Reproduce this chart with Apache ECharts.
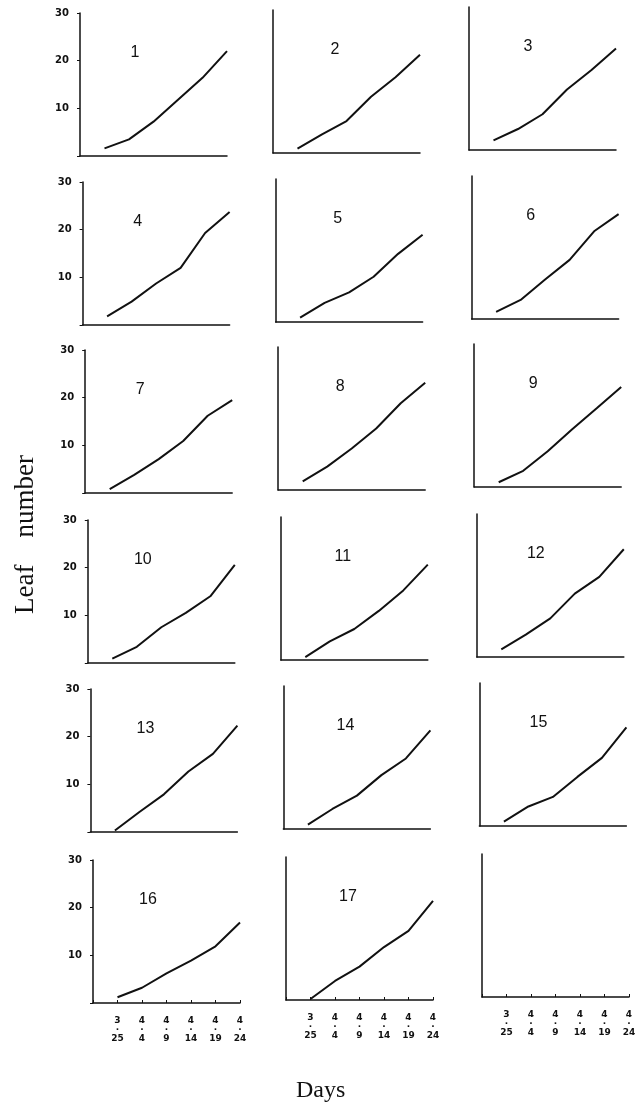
<!DOCTYPE html>
<html>
<head>
<meta charset="utf-8">
<script src="https://cdn.jsdelivr.net/npm/echarts@6/dist/echarts.min.js"></script>
<style>
html, body { margin: 0; padding: 0; background: #fff; }
#chart { width: 644px; height: 1109px; }
</style>
</head>
<body>
<div id="chart"></div>
<script>
// sampling dates, month over day
var months = ['3', '4', '4', '4', '4', '4'];
var days = ['25', '4', '9', '14', '19', '24'];
var dayIndex = [1, 2, 3, 4, 5, 6];
var yTicks = [0, 10, 20, 30];

// leaf number per plant
var leaf01 = [1.6, 3.5, 7.2, 11.8, 16.4, 22.0];
var leaf02 = [0.9, 3.9, 6.7, 11.8, 15.9, 20.6];
var leaf03 = [2.0, 4.4, 7.5, 12.7, 16.8, 21.3];
var leaf04 = [1.8, 4.9, 8.7, 12.0, 19.3, 23.7];
var leaf05 = [0.9, 4.0, 6.2, 9.5, 14.3, 18.3];
var leaf06 = [1.5, 4.0, 8.3, 12.4, 18.4, 22.0];
var leaf07 = [0.8, 3.8, 7.1, 10.9, 16.2, 19.5];
var leaf08 = [1.8, 4.9, 8.7, 12.9, 18.2, 22.5];
var leaf09 = [1.0, 3.4, 7.5, 12.1, 16.5, 21.0];
var leaf10 = [0.9, 3.4, 7.5, 10.5, 14.0, 20.6];
var leaf11 = [0.6, 3.9, 6.5, 10.3, 14.6, 20.0];
var leaf12 = [1.6, 4.7, 8.1, 13.3, 16.8, 22.6];
var leaf13 = [0.3, 4.2, 7.9, 12.7, 16.4, 22.3];
var leaf14 = [0.9, 4.2, 7.0, 11.3, 14.8, 20.7];
var leaf15 = [0.9, 4.1, 6.1, 10.3, 14.3, 20.7];
var leaf16 = [1.2, 3.2, 6.2, 8.9, 11.9, 16.9];
var leaf17 = [0.2, 4.0, 7.0, 11.1, 14.5, 20.8];

var plants = ['1', '2', '3', '4', '5', '6', '7', '8', '9', '10', '11', '12', '13', '14', '15', '16', '17'];
var leaves = [leaf01, leaf02, leaf03, leaf04, leaf05, leaf06, leaf07, leaf08, leaf09,
              leaf10, leaf11, leaf12, leaf13, leaf14, leaf15, leaf16, leaf17];

var o = {};

(function main() {
    o.chart = echarts.init(document.getElementById('chart'), null, { renderer: 'canvas' });
    o.chart.setOption(buildOption(), true);
})();

function buildOption()
{
    var colLeft = [80, 273, 469];
    var rowBottom = [156, 325, 493, 663, 832, 1003];
    var labelDx = [55, 62, 59];
    var labelDy = 40;
    var panelW = 147, panelH = 143;
    var ink = '#111';

    var grids = [], xAxes = [], yAxes = [], series = [], graphics = [];

    for (var i = 0; i < 18; i++) {
        var r = Math.floor(i / 3), c = i % 3;
        var left = colLeft[c] + r * 2.6;
        var bottom = rowBottom[r] - c * 3;
        var top = bottom - panelH;

        grids.push({ left: left, top: top, width: panelW, height: panelH });

        xAxes.push({
            gridIndex: i, type: 'value', min: 0, max: 6, interval: 1,
            axisLine: { lineStyle: { color: ink, width: 1.5 } },
            axisTick: { show: r === 5, inside: true, length: 3, lineStyle: { color: ink } },
            splitLine: { show: false },
            axisLabel: {
                show: r === 5, margin: 13, fontSize: 9, fontWeight: 'bold', lineHeight: 9,
                fontFamily: 'DejaVu Sans', color: ink,
                formatter: function(v) {
                    var k = dayIndex.indexOf(v);
                    return k < 0 ? '' : months[k] + '\n·\n' + days[k];
                }
            }
        });

        yAxes.push({
            gridIndex: i, type: 'value', min: yTicks[0], max: yTicks[yTicks.length - 1], interval: 10,
            axisLine: { show: true, lineStyle: { color: ink, width: 1.5 } },
            axisTick: { show: c === 0, length: 3, lineStyle: { color: ink } },
            splitLine: { show: false },
            axisLabel: {
                show: c === 0, margin: 11, fontSize: 10, fontWeight: 'bold',
                fontFamily: 'DejaVu Sans', color: ink,
                formatter: function(v) { return v === 0 ? '' : String(v); }
            }
        });

        if (i < leaves.length) {
            series.push({
                type: 'line', xAxisIndex: i, yAxisIndex: i,
                data: leaves[i].map(function(v, k) { return [dayIndex[k], v]; }),
                symbol: 'none', silent: true,
                lineStyle: { color: ink, width: 2 }
            });

            graphics.push({
                type: 'text', x: left + labelDx[c], y: top + labelDy,
                style: {
                    text: plants[i], font: '16px "Liberation Sans"', fill: ink,
                    align: 'center', verticalAlign: 'middle'
                }
            });
        }
    }

    graphics.push({
        type: 'text', left: 12, top: 455, rotation: Math.PI / 2,
        style: { text: 'Leaf    number', font: '27px "Liberation Serif"', fill: ink }
    });
    graphics.push({
        type: 'text', left: 296, top: 1079,
        style: { text: 'Days', font: '24px "Liberation Serif"', fill: ink }
    });

    return {
        backgroundColor: '#fff',
        animation: false,
        grid: grids,
        xAxis: xAxes,
        yAxis: yAxes,
        series: series,
        graphic: graphics
    };
}
</script>
</body>
</html>
